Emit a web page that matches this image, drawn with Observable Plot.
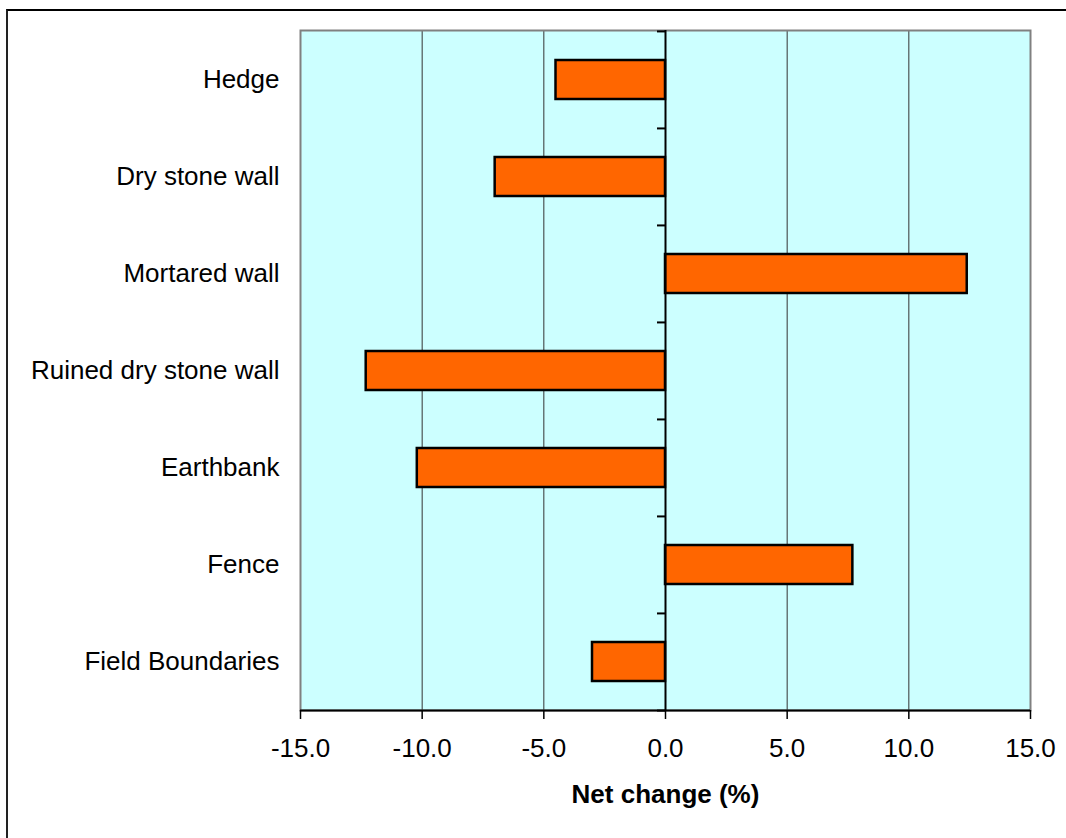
<!DOCTYPE html>
<html>
<head>
<meta charset="utf-8">
<script src="https://cdn.jsdelivr.net/npm/d3@7"></script>
<script src="https://cdn.jsdelivr.net/npm/@observablehq/plot@0.6"></script>
<style>
  html, body { margin: 0; padding: 0; background: #fff; }
  #wrap { position: relative; width: 1066px; height: 838px; overflow: hidden; }
  #frame { position: absolute; left: 6px; top: 9px; width: 1100px; height: 900px;
           border-top: 2px solid #000; border-left: 2px solid #222; box-sizing: border-box; }
  #chart { position: absolute; left: 0; top: 0; }
  #chart svg { font-family: "Liberation Sans", Arial, sans-serif; }
</style>
</head>
<body>
<div id="wrap"><div id="frame"></div><div id="chart"></div></div>
<script>
const categories = ["Hedge", "Dry stone wall", "Mortared wall", "Ruined dry stone wall", "Earthbank", "Fence", "Field Boundaries"];
const values = [-4.5, -7.0, 12.4, -12.3, -10.2, 7.7, -3.0];
const xTicks = [-15, -10, -5, 0, 5, 10, 15];
const gridTicks = [-10, -5, 5, 10];
const axisTitle = "Net change (%)";

const data = categories.map((c, i) => ({category: c, value: values[i]}));
const fmt = d => d.toFixed(1);

const W = 1066, H = 838, mT = 30, mB = 128, mL = 300, mR = 36;
const step = (H - mT - mB) / categories.length;

const chart = Plot.plot({
  width: W, height: H,
  marginTop: mT, marginBottom: mB, marginLeft: mL, marginRight: mR,
  style: {fontSize: "26px", fontFamily: "'Liberation Sans', Arial, sans-serif", color: "#000", background: "transparent"},
  x: {domain: [-15, 15], ticks: xTicks, tickFormat: fmt},
  y: {domain: categories, padding: 0},
  marks: [
    Plot.frame({fill: "#ccffff", stroke: null}),
    Plot.ruleX(gridTicks, {stroke: "#333", strokeWidth: 1}),
    Plot.frame({stroke: "#808080", strokeWidth: 2}),
    Plot.barX(data, {x: "value", y: "category", fill: "#ff6600", stroke: "#000", strokeWidth: 2.5, insetTop: 29, insetBottom: 29}),
    Plot.ruleX([0], {stroke: "#000", strokeWidth: 2}),
    Plot.ruleY(categories, {x1: -0.33, x2: 0, dy: -step / 2, stroke: "#000", strokeWidth: 2}),
    Plot.ruleY([categories[categories.length - 1]], {x1: -0.33, x2: 0, dy: step / 2, stroke: "#000", strokeWidth: 2}),
    Plot.ruleY([categories[categories.length - 1]], {x1: -15, x2: 15, dy: step / 2, stroke: "#000", strokeWidth: 2}),
    Plot.axisX({ticks: xTicks, tickFormat: fmt, tickSize: 9, tickPadding: 19, stroke: "#000", strokeWidth: 1.5, label: null, fontSize: 26}),
    Plot.axisY({tickSize: 0, tickPadding: 21, label: null, fontSize: 26}),
    Plot.text([axisTitle], {frameAnchor: "bottom", dy: 84, text: d => d, fontWeight: "bold", fontSize: 26, textAnchor: "middle", lineAnchor: "middle"})
  ]
});
document.getElementById("chart").appendChild(chart);
</script>
</body>
</html>
